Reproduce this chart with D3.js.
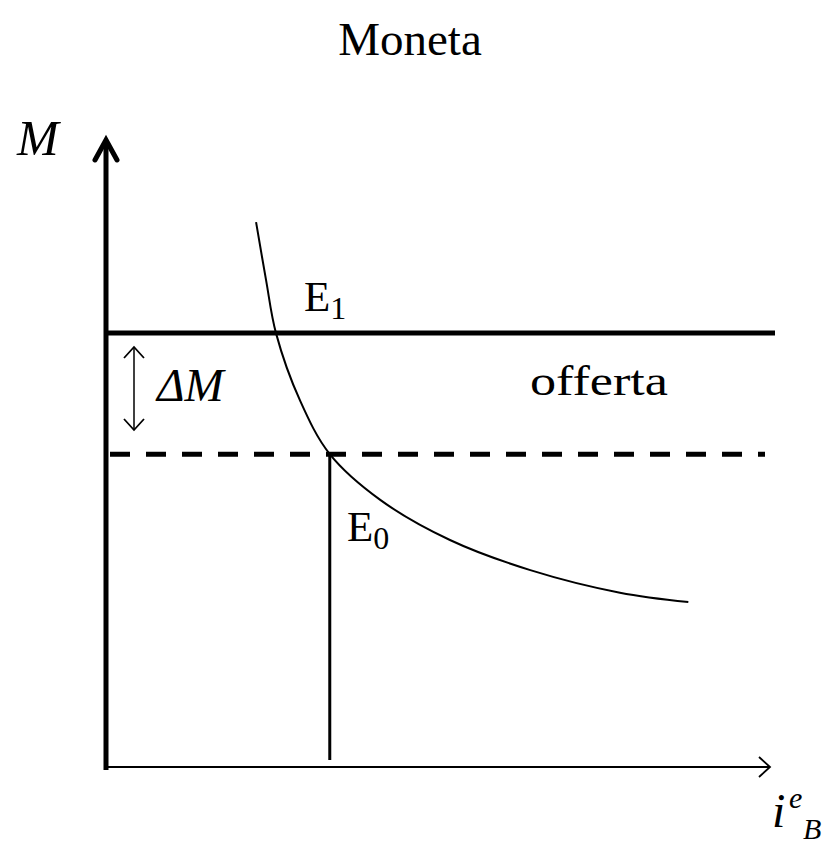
<!DOCTYPE html>
<html>
<head>
<meta charset="utf-8">
<script src="https://cdn.jsdelivr.net/npm/d3@7"></script>
<style>
  body { margin: 0; background: #fff; }
  text { font-family: "Liberation Serif", "DejaVu Serif", serif; fill: #000; }
</style>
</head>
<body>
<div id="chart"></div>
<script>
// demand curve for money (abstract units, 0..100)
const curveX = [22.6, 24.1, 25.6, 29.2, 33.7, 41.3, 51.8, 63.9, 77.4, 87.7];
const curveY = [86.9, 77.7, 69.2, 58.5, 49.9, 42.6, 36.2, 31.4, 27.8, 26.3];
// money supply levels: after and before
const supplyLevels = [69.2, 49.9];
const eqRate = 33.7;

const width = 823, height = 844;

const svg = d3.select("#chart")
  .append("svg")
  .attr("width", width)
  .attr("height", height);

const x = d3.scaleLinear().domain([0, 100]).range([106, 770]);
const y = d3.scaleLinear().domain([0, 100]).range([767, 140]);

// title
svg.append("text")
  .attr("x", 410).attr("y", 55)
  .attr("text-anchor", "middle")
  .style("font-size", "47px")
  .text("Moneta");

// arrow markers
const defs = svg.append("defs");
defs.append("marker")
  .attr("id", "open")
  .attr("viewBox", "-12 -12 14 24")
  .attr("refX", 0).attr("refY", 0)
  .attr("markerWidth", 14).attr("markerHeight", 24)
  .attr("markerUnits", "userSpaceOnUse")
  .attr("orient", "auto-start-reverse")
  .append("path")
  .attr("d", "M-11,-10L0,0L-11,10")
  .attr("fill", "none").attr("stroke", "#000").attr("stroke-width", 1.8);

// supply lines
svg.append("line")
  .attr("x1", x(0)).attr("x2", 775)
  .attr("y1", y(supplyLevels[0])).attr("y2", y(supplyLevels[0]))
  .attr("stroke", "#000").attr("stroke-width", 5);

svg.append("line")
  .attr("x1", x(0) + 4).attr("x2", 765)
  .attr("y1", y(supplyLevels[1])).attr("y2", y(supplyLevels[1]))
  .attr("stroke", "#000").attr("stroke-width", 5)
  .attr("stroke-dasharray", "20,16");

// vertical line from E0
svg.append("line")
  .attr("x1", x(eqRate)).attr("x2", x(eqRate))
  .attr("y1", y(supplyLevels[1])).attr("y2", 760)
  .attr("stroke", "#000").attr("stroke-width", 3);

// demand curve
const pts = curveX.map((d, i) => [x(d), y(curveY[i])]);
svg.append("path")
  .attr("d", d3.line().curve(d3.curveCatmullRom)(pts))
  .attr("fill", "none").attr("stroke", "#000").attr("stroke-width", 2);

// horizontal axis
svg.append("line")
  .attr("x1", x(0)).attr("x2", x(100))
  .attr("y1", y(0)).attr("y2", y(0))
  .attr("stroke", "#000").attr("stroke-width", 2)
  .attr("marker-end", "url(#open)");

// vertical axis
svg.append("line")
  .attr("x1", x(0)).attr("x2", x(0))
  .attr("y1", 770).attr("y2", y(100) + 2)
  .attr("stroke", "#000").attr("stroke-width", 5);
svg.append("path")
  .attr("d", `M${x(0) - 11},${y(100) + 20}L${x(0)},${y(100)}L${x(0) + 11},${y(100) + 20}`)
  .attr("fill", "none").attr("stroke", "#000").attr("stroke-width", 5)
  .attr("stroke-linecap", "round").attr("stroke-linejoin", "miter");

// delta M double arrow
svg.append("line")
  .attr("x1", 134).attr("x2", 134)
  .attr("y1", 347).attr("y2", 430)
  .attr("stroke", "#000").attr("stroke-width", 1.5)
  .attr("marker-start", "url(#open)")
  .attr("marker-end", "url(#open)");

// labels
svg.append("text").attr("x", 17).attr("y", 155)
  .style("font-size", "50px").style("font-style", "italic").text("M");

svg.append("text").attr("x", 157).attr("y", 401)
  .style("font-size", "47px").style("font-style", "italic").text("ΔM");

svg.append("text").attr("x", 530).attr("y", 395)
  .attr("textLength", 138).attr("lengthAdjust", "spacingAndGlyphs")
  .style("font-size", "42px").text("offerta");

const e1 = svg.append("text").attr("x", 304).attr("y", 311).style("font-size", "43px");
e1.append("tspan").text("E");
e1.append("tspan").attr("dy", 8).style("font-size", "32px").text("1");

const e0 = svg.append("text").attr("x", 347).attr("y", 541).style("font-size", "43px");
e0.append("tspan").text("E");
e0.append("tspan").attr("dy", 8).style("font-size", "32px").text("0");

svg.append("text").attr("x", 772).attr("y", 827)
  .style("font-size", "48px").style("font-style", "italic").text("i");
svg.append("text").attr("x", 789).attr("y", 808)
  .style("font-size", "30px").style("font-style", "italic").text("e");
svg.append("text").attr("x", 803).attr("y", 839)
  .style("font-size", "30px").style("font-style", "italic").text("B");
</script>
</body>
</html>
